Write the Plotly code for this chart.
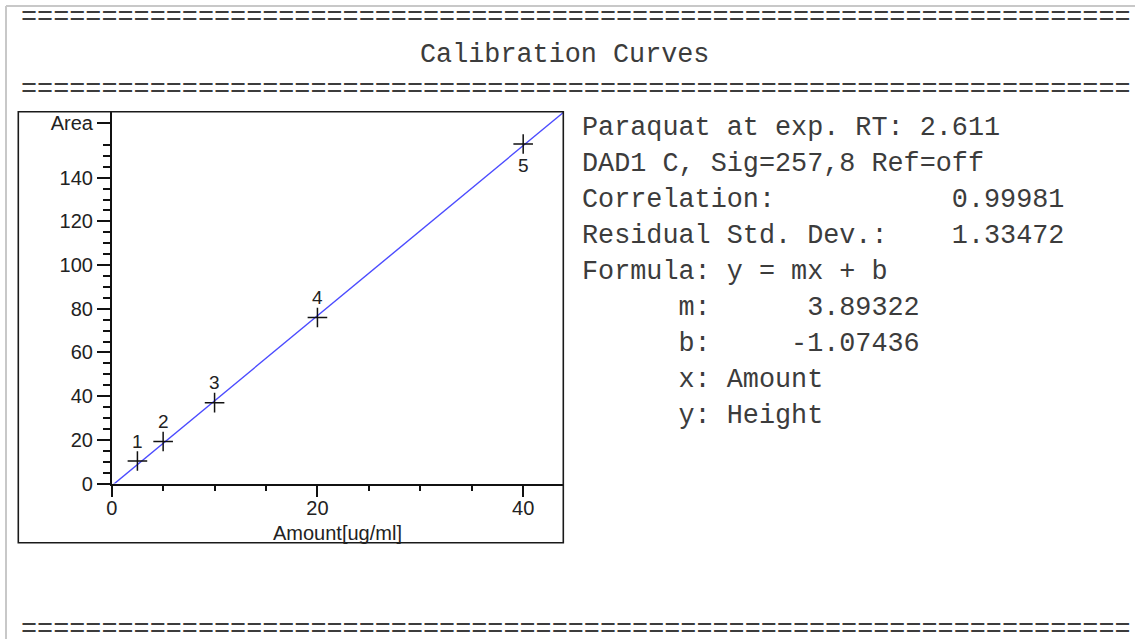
import plotly.graph_objects as go

# Calibration points (amount in ug/ml, response)
levels = ["1", "2", "3", "4", "5"]
amounts = [2.5, 5.0, 10.0, 20.0, 40.0]
responses = [10.3, 19.2, 37.0, 76.0, 155.4]

# Linear fit reported by the report header
slope = 3.89322
intercept = -1.07436

# Report text
title_text = "Calibration Curves"
info_lines = [
    "Paraquat at exp. RT: 2.611",
    "DAD1 C, Sig=257,8 Ref=off",
    "Correlation:           0.99981",
    "Residual Std. Dev.:    1.33472",
    "Formula: y = mx + b",
    "      m:      3.89322",
    "      b:     -1.07436",
    "      x: Amount",
    "      y: Height",
]
rule_line = "=" * 69

x_range = [0, 43.9]
y_range = [0, 170.2]
y_major = [0, 20, 40, 60, 80, 100, 120, 140, 165]
y_major_text = ["0", "20", "40", "60", "80", "100", "120", "140", "Area"]
y_minor = [v for v in range(5, 165, 5) if v % 20 != 0]
x_major = [0, 20, 40]
x_minor = [5, 10, 15, 25, 30, 35]

W, H = 1135, 639


def px(x):
    return x / W


def py(y):
    return 1 - y / H


mono = "Courier New, Liberation Mono, monospace"
sans = "Arial, Liberation Sans, sans-serif"
text_col = "#3c3c3c"
ink = "#111111"

fig = go.Figure()

# Fitted line across the visible amount range
fit_x = [0.0, x_range[1]]
fit_y = [slope * v + intercept for v in fit_x]
fig.add_trace(go.Scatter(
    x=fit_x, y=fit_y, mode="lines",
    line=dict(color="#4b4bff", width=1.4),
    hoverinfo="skip", showlegend=False,
))

# Measured calibration levels
fig.add_trace(go.Scatter(
    x=amounts, y=responses, mode="markers",
    marker=dict(symbol="cross-thin", size=14,
                line=dict(color=ink, width=1.5)),
    showlegend=False, cliponaxis=False,
))

annotations = []
# Level numbers: above the points, except the last one which sits below
for i, (lab, xv, yv) in enumerate(zip(levels, amounts, responses)):
    below = i == len(levels) - 1
    annotations.append(dict(
        x=xv, y=yv, xref="x", yref="y", text=lab, showarrow=False,
        yshift=-21 if below else 20,
        font=dict(family=sans, size=19, color="#222222"),
    ))

# Axis title
annotations.append(dict(
    x=px(337.5), y=py(533), xref="paper", yref="paper",
    text="Amount[ug/ml]", showarrow=False, xanchor="center", yanchor="middle",
    font=dict(family=sans, size=20, color="#222222"),
))

# Header rules and title
for yy in (18, 90.5):
    annotations.append(dict(
        x=px(19), y=py(yy), xref="paper", yref="paper", text=rule_line,
        showarrow=False, xanchor="left", yanchor="middle",
        font=dict(family=mono, size=26.8, color=text_col),
    ))
# Closing rule sits on the bottom edge of the page
annotations.append(dict(
    x=px(19), y=0, xref="paper", yref="paper", text=rule_line,
    showarrow=False, xanchor="left", yanchor="bottom", yshift=-8,
    font=dict(family=mono, size=26.8, color=text_col),
))
annotations.append(dict(
    x=px(564.5), y=py(55), xref="paper", yref="paper", text=title_text,
    showarrow=False, xanchor="center", yanchor="middle",
    font=dict(family=mono, size=26.8, color=text_col),
))

# Calibration summary block
for k, line in enumerate(info_lines):
    annotations.append(dict(
        x=px(580), y=py(128 + 36 * k), xref="paper", yref="paper",
        text=line.replace(" ", "&nbsp;"), showarrow=False,
        xanchor="left", yanchor="middle",
        font=dict(family=mono, size=26.8, color=text_col),
    ))

shapes = [
    # Page border (top and left edges)
    dict(type="line", xref="paper", yref="paper",
         x0=px(6), x1=1, y0=py(6), y1=py(6),
         line=dict(color="#c8c8c8", width=2)),
    dict(type="line", xref="paper", yref="paper",
         x0=px(6), x1=px(6), y0=py(6), y1=0,
         line=dict(color="#c8c8c8", width=2)),
    # Chart frame
    dict(type="rect", xref="paper", yref="paper",
         x0=px(18.3), x1=px(563.3), y0=py(542.7), y1=py(111.7),
         line=dict(color="#1a1a1a", width=1.6)),
]

fig.update_layout(
    width=W, height=H,
    margin=dict(l=0, r=0, t=0, b=0, autoexpand=False),
    paper_bgcolor="white", plot_bgcolor="white",
    showlegend=False,
    annotations=annotations,
    shapes=shapes,
    xaxis=dict(
        domain=[px(111.7), px(563.3)], range=x_range,
        showgrid=False, zeroline=False, automargin=False,
        showline=True, linecolor=ink, linewidth=1.5,
        ticks="outside", ticklen=12, tickwidth=1.5, tickcolor=ink,
        tickvals=x_major, ticktext=[str(v) for v in x_major],
        ticklabelstandoff=-6,
        minor=dict(tickvals=x_minor, ticks="outside", ticklen=6,
                   tickwidth=1.5, tickcolor=ink, showgrid=False),
        tickfont=dict(family=sans, size=20, color="#222222"),
        fixedrange=True,
    ),
    yaxis=dict(
        domain=[py(483.5), py(111.7)], range=y_range,
        showgrid=False, zeroline=False, automargin=False,
        showline=True, linecolor=ink, linewidth=1.5,
        ticks="outside", ticklen=13, tickwidth=1.5, tickcolor=ink,
        tickvals=y_major, ticktext=y_major_text,
        minor=dict(tickvals=y_minor, ticks="outside", ticklen=7,
                   tickwidth=1.5, tickcolor=ink, showgrid=False),
        tickfont=dict(family=sans, size=20, color="#222222"),
        fixedrange=True,
    ),
)

fig.write_html("out.html")
